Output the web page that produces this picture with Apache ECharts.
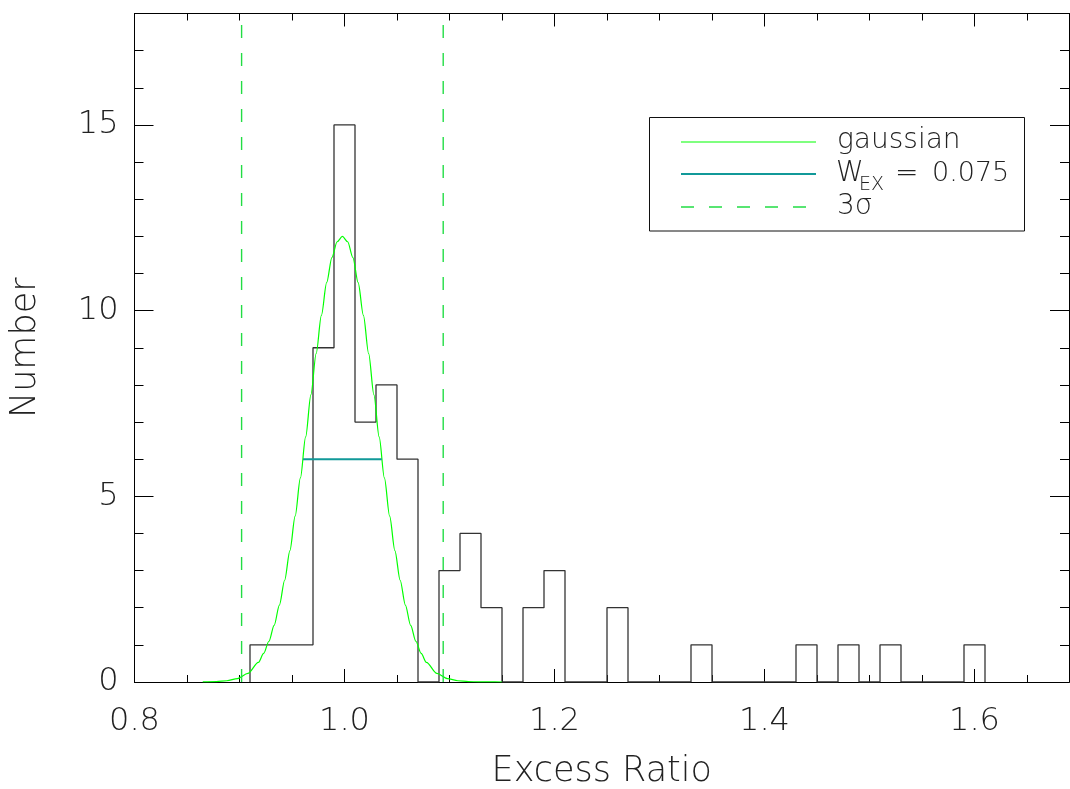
<!DOCTYPE html>
<html><head><meta charset="utf-8">
<script src="https://cdn.jsdelivr.net/npm/echarts@6/dist/echarts.min.js"></script>
<style>html,body{margin:0;padding:0;background:#fff}#c{width:1070px;height:789px}</style>
</head><body><div id="c"></div>
<script>
// ---- data ----
const binStart = 0.91;
const binWidth = 0.02;
const binCounts = [1,1,1,9,15,7,8,6,0,3,4,2,0,2,3,0,0,2,0,0,0,1,0,0,0,0,1,0,1,0,1,0,0,0,1];
const gaussX = [0.865,0.878,0.888,0.898,0.908,0.918,0.923,0.928,0.933,0.938,0.943,0.948,0.953,0.958,0.963,0.968,0.973,0.978,0.983,0.988,0.993,0.998,1.003,1.008,1.013,1.018,1.023,1.028,1.033,1.038,1.043,1.048,1.053,1.058,1.063,1.068,1.073,1.078,1.088,1.098,1.108,1.118,1.128,1.138,1.150];
const gaussY = [0.002,0.011,0.033,0.091,0.230,0.527,0.770,1.097,1.525,2.069,2.740,3.540,4.465,5.494,6.598,7.733,8.844,9.871,10.752,11.428,11.854,12.0,11.854,11.428,10.752,9.871,8.844,7.733,6.598,5.494,4.465,3.540,2.740,2.069,1.525,1.097,0.770,0.527,0.230,0.091,0.033,0.011,0.003,0.001,0.000];
const fwhmX = [0.9605, 1.0355];
const fwhmY = [6, 6];
const sigmaX = [0.902, 1.094];
const xMajorTicks = [0.8, 1.0, 1.2, 1.4, 1.6];
const xMinorTicks = [0.85,0.9,0.95,1.05,1.1,1.15,1.25,1.3,1.35,1.45,1.5,1.55,1.65];
const yMajorTicks = [0, 5, 10, 15];
const yMinorTicks = [1,2,3,4,6,7,8,9,11,12,13,14,16,17];
const legendLabels = ['gaussian', 'W', 'EX', '=', '0.075', '3σ'];

// ---- build ----
const FONT = 'DejaVu Sans';
const TXT = '#222';
const X_MIN = 0.8, X_MAX = 1.69, Y_MIN = 0, Y_MAX = 18;

const histData = [[binStart, 0]];
binCounts.forEach((c, i) => {
  const l = +(binStart + i * binWidth).toFixed(4);
  const r = +(binStart + (i + 1) * binWidth).toFixed(4);
  histData.push([l, c], [r, c]);
});
histData.push([+(binStart + binCounts.length * binWidth).toFixed(4), 0]);

const gaussData = gaussX.map((x, i) => [x, gaussY[i]]);
const fwhmData = fwhmX.map((x, i) => [x, fwhmY[i]]);

function xAxis(pos, ticks, len, withLabel) {
  return {
    type: 'value', min: X_MIN, max: X_MAX, position: pos,
    axisLine: { show: true, onZero: false, lineStyle: { color: '#000', width: 1 } },
    axisTick: { show: true, inside: true, length: len, customValues: ticks, lineStyle: { color: '#000', width: 1 } },
    axisLabel: withLabel ? { show: true, customValues: ticks, formatter: v => v.toFixed(1), fontSize: 32, fontFamily: FONT, fontWeight: 200, color: TXT, margin: 24 } : { show: false },
    splitLine: { show: false },
    name: withLabel ? 'Excess Ratio' : '', nameLocation: 'middle', nameGap: 72,
    nameTextStyle: { fontSize: 35, fontFamily: FONT, fontWeight: 200, color: TXT }
  };
}
function yAxis(pos, ticks, len, withLabel) {
  return {
    type: 'value', min: Y_MIN, max: Y_MAX, position: pos,
    axisLine: { show: true, onZero: false, lineStyle: { color: '#000', width: 1 } },
    axisTick: { show: true, inside: true, length: len, customValues: ticks, lineStyle: { color: '#000', width: 1 } },
    axisLabel: withLabel ? { show: true, customValues: ticks, formatter: v => String(v), fontSize: 32, fontFamily: FONT, fontWeight: 200, color: TXT, margin: 16 } : { show: false },
    splitLine: { show: false },
    name: withLabel ? 'Number' : '', nameLocation: 'middle', nameGap: 91,
    nameTextStyle: { fontSize: 35, fontFamily: FONT, fontWeight: 200, color: TXT }
  };
}

const chart = echarts.init(document.getElementById('c'), null, { renderer: 'canvas' });
const baseLine = { type: 'line', xAxisIndex: 0, yAxisIndex: 0, symbol: 'none', silent: true, animation: false };

const LX = 649.5, LY = 117.5;
const LF = '200 28px "DejaVu Sans"';
const legendGraphic = [
  { type: 'rect', shape: { x: LX, y: LY, width: 375, height: 113.5 }, style: { fill: 'none', stroke: '#111', lineWidth: 1 }, z: 10 },
  { type: 'line', shape: { x1: 681, y1: 142, x2: 816, y2: 142 }, style: { stroke: '#00ff00', lineWidth: 1.2 }, z: 10 },
  { type: 'line', shape: { x1: 681, y1: 174, x2: 816, y2: 174 }, style: { stroke: '#119999', lineWidth: 2 }, z: 10 },
  { type: 'line', shape: { x1: 681, y1: 207, x2: 816, y2: 207 }, style: { stroke: '#22dd44', lineWidth: 1.4, lineDash: [13, 15] }, z: 10 },
  { type: 'text', x: 837, y: 141, style: { text: legendLabels[0], font: LF, fill: TXT, verticalAlign: 'middle' }, z: 10 },
  { type: 'text', x: 836, y: 174, style: { text: legendLabels[1], font: LF, fill: TXT, verticalAlign: 'middle' }, z: 10 },
  { type: 'text', x: 859, y: 185, style: { text: legendLabels[2], font: '200 19px "DejaVu Sans"', fill: TXT, verticalAlign: 'middle' }, z: 10 },
  { type: 'text', x: 895, y: 174, style: { text: legendLabels[3], font: LF, fill: TXT, verticalAlign: 'middle' }, z: 10 },
  { type: 'text', x: 932, y: 174, style: { text: legendLabels[4], font: '200 27px "DejaVu Sans"', fill: TXT, verticalAlign: 'middle' }, z: 10 },
  { type: 'text', x: 837, y: 207, style: { text: legendLabels[5], font: LF, fill: TXT, verticalAlign: 'middle' }, z: 10 }
];

chart.setOption({
  animation: false,
  backgroundColor: '#fff',
  grid: { left: 134.5, top: 13.5, right: 1, bottom: 107, containLabel: false, outerBoundsMode: 'none' },
  xAxis: [xAxis('bottom', xMajorTicks, 13, true), xAxis('top', xMajorTicks, 13, false), xAxis('bottom', xMinorTicks, 7, false), xAxis('top', xMinorTicks, 7, false)],
  yAxis: [yAxis('left', yMajorTicks, 19, true), yAxis('right', yMajorTicks, 19, false), yAxis('left', yMinorTicks, 9, false), yAxis('right', yMinorTicks, 9, false)],
  series: [
    Object.assign({}, baseLine, { name: 'histogram', data: histData, lineStyle: { color: '#333', width: 1.3 }, z: 3 }),
    Object.assign({}, baseLine, { name: 'gaussian', data: gaussData, smooth: 0.3, smoothMonotone: 'x', lineStyle: { color: '#00ff00', width: 1.2 }, z: 4 }),
    ...sigmaX.map((x, i) => Object.assign({}, baseLine, { name: '3σ ' + i, data: [[x, Y_MIN], [x, Y_MAX]], lineStyle: { color: '#22dd44', width: 1.4, type: [13, 15] }, z: 4 })),
    Object.assign({}, baseLine, { name: 'W_EX', data: fwhmData, lineStyle: { color: '#119999', width: 2 }, z: 5 })
  ],
  graphic: legendGraphic
});
</script></body></html>
